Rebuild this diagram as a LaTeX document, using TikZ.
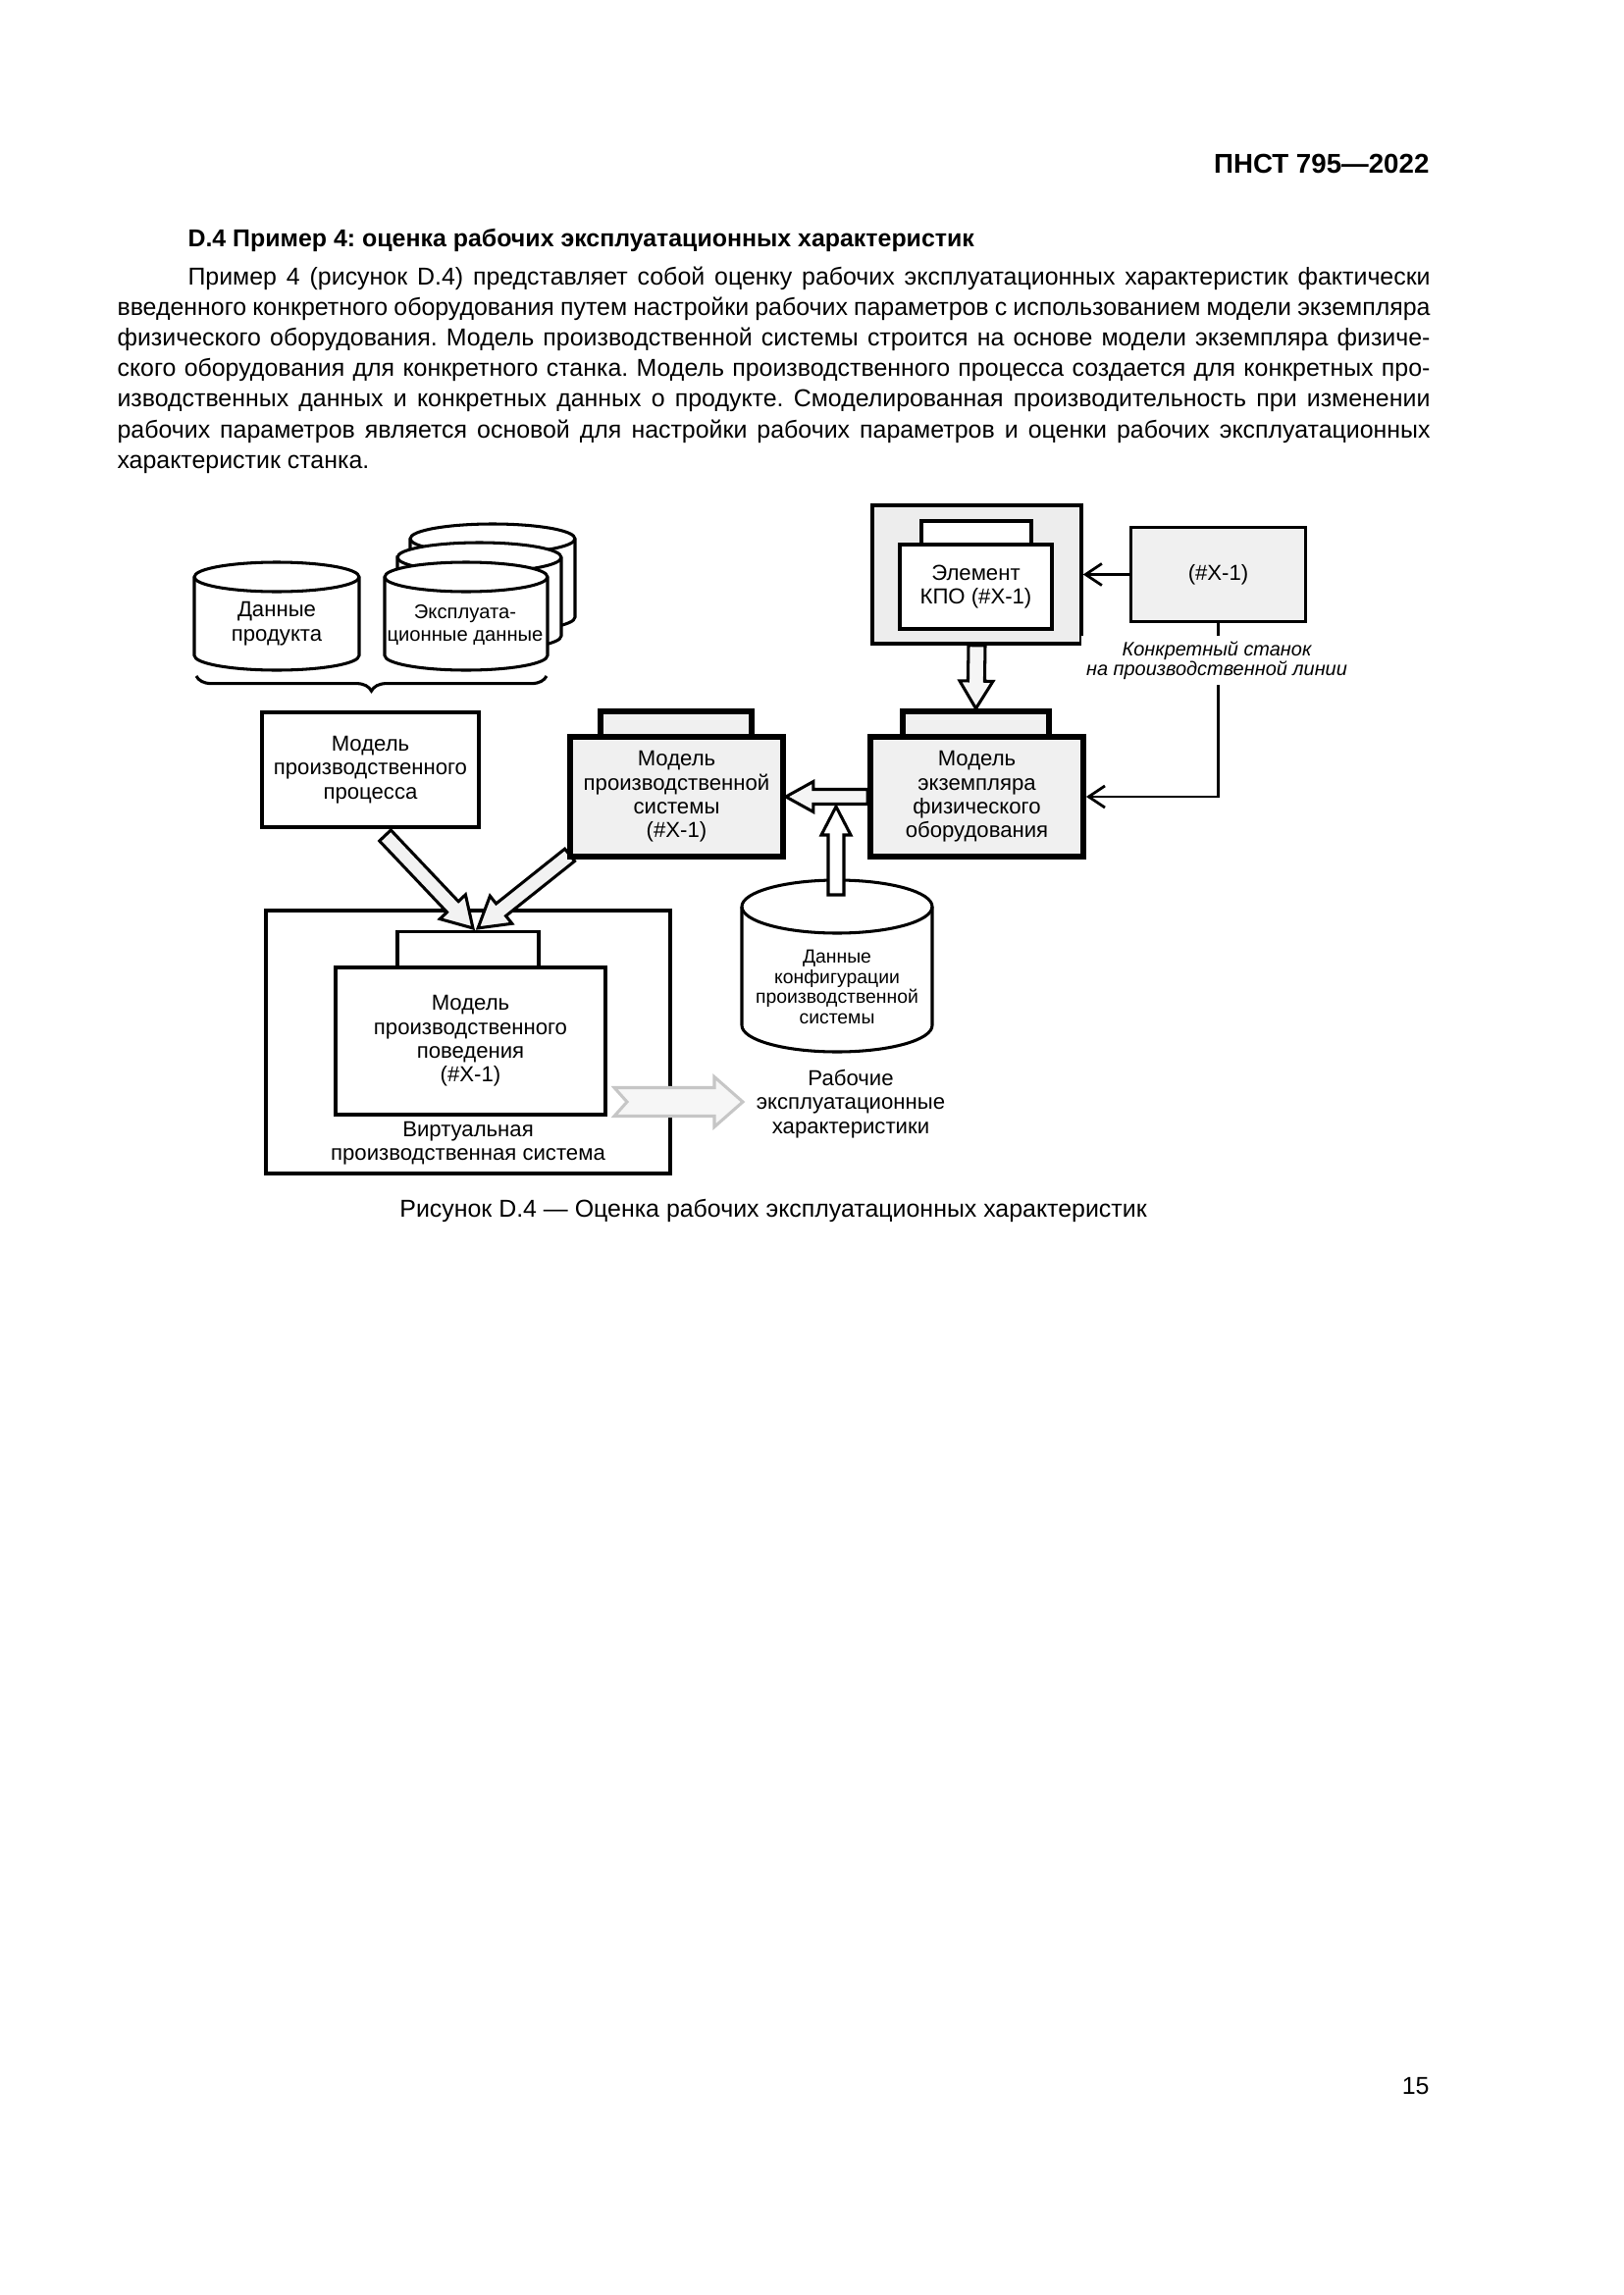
\documentclass[tikz,border=0pt]{standalone}
\usepackage{fontspec}
\setmainfont{Liberation Sans}
\frenchspacing
\usetikzlibrary{calc,arrows.meta,decorations.pathreplacing}
\pgfdeclarelayer{back}
\pgfdeclarelayer{mid}
\pgfsetlayers{back,mid,main}
\newlength\pxu
\setlength\pxu{0.126965mm}
\newcommand\diafont{\fontsize{8}{8.8}\selectfont}
\newcommand\smfont{\fontsize{7.3}{8.2}\selectfont}
\newcommand\txtfont{\fontsize{9}{11}\selectfont}
% hollow block arrow: [style]{from}{to}{shaft}{head}{headlen}
\newcommand\blockarrow[6][fill=white]{%
  \draw[barrow, #1] let \p1=($(#3)-(#2)$), \n1={atan2(\y1,\x1)}, \n2={veclen(\x1,\y1)} in
    [shift={(#2)}, rotate=\n1]
    (0pt,{#4*\pxu/2}) -- ({\n2-#6*\pxu},{#4*\pxu/2}) -- ({\n2-#6*\pxu},{#5*\pxu/2})
    -- ({\n2*1pt},0pt) -- ({\n2-#6*\pxu},{-#5*\pxu/2}) -- ({\n2-#6*\pxu},{-#4*\pxu/2})
    -- (0pt,{-#4*\pxu/2}) -- cycle;}
% notched tail arrow: [style]{from}{to}{shaft}{head}{headlen}{notch}
\newcommand\notcharrow[7][fill=white]{%
  \draw[barrow, #1] let \p1=($(#3)-(#2)$), \n1={atan2(\y1,\x1)}, \n2={veclen(\x1,\y1)} in
    [shift={(#2)}, rotate=\n1]
    (0pt,{#4*\pxu/2}) -- ({\n2-#6*\pxu},{#4*\pxu/2}) -- ({\n2-#6*\pxu},{#5*\pxu/2})
    -- ({\n2*1pt},0pt) -- ({\n2-#6*\pxu},{-#5*\pxu/2}) -- ({\n2-#6*\pxu},{-#4*\pxu/2})
    -- (0pt,{-#4*\pxu/2}) -- ({#7*\pxu},0pt) -- cycle;}
% cylinder: left, top, right, bottom, ry (px)
\newcommand\cyl[5]{%
  \draw[cylline, fill=white] (#1,{#2+#5}) -- (#1,{#4-#5})
    arc[start angle=180, end angle=360, x radius={(#3-#1)/2*\pxu}, y radius={#5*\pxu}]
    -- (#3,{#2+#5})
    arc[start angle=0, end angle=180, x radius={(#3-#1)/2*\pxu}, y radius={#5*\pxu}]
    -- cycle;
  \draw[cylline] (#1,{#2+#5})
    arc[start angle=180, end angle=360, x radius={(#3-#1)/2*\pxu}, y radius={#5*\pxu}];}
\begin{document}
\begin{tikzpicture}[x=\pxu, y=-\pxu,
  sz/.style 2 args={minimum width={#1*\pxu}, minimum height={#2*\pxu}},
  base/.style={inner sep=0pt, align=center, font=\diafont},
  tbox/.style={base, draw, line width=1.1pt, fill=white},
  gbox/.style={base, draw, line width=2.1pt, fill=gray!12},
  conn/.style={line width=1pt, -{Straight Barb[length=6pt,width=8pt]}},
  barrow/.style={line width=1.1pt, line join=miter},
  cylline/.style={line width=1.1pt},
  ptext/.style={anchor=base west, inner sep=0pt, font=\txtfont},
]
\useasboundingbox (0,0) rectangle (1654,2339);
\begin{pgfonlayer}{back}
\fill[white] (0,0) rectangle (1654,2339);
\end{pgfonlayer}

% page text
\node[anchor=base east, inner sep=0pt, font=\fontsize{10}{12}\selectfont\bfseries] (hdr) at (1457,177) {ПНСТ 795—2022};
\node[anchor=base west, inner sep=0pt, font=\fontsize{9}{11}\selectfont\bfseries] (sec) at (191,251) {D.4 Пример 4: оценка рабочих эксплуатационных характеристик};
\node[ptext] (p1) at (191,290) {\makebox[1266\pxu][s]{Пример 4 (рисунок D.4) представляет собой оценку рабочих эксплуатационных характеристик фактически}};
\node[ptext] (p2) at (119,321.2) {\makebox[1338\pxu][s]{введенного конкретного оборудования путем настройки рабочих параметров с использованием модели экземпляра}};
\node[ptext] (p3) at (119,352.4) {\makebox[1338\pxu][s]{физического оборудования. Модель производственной системы строится на основе модели экземпляра физиче-}};
\node[ptext] (p4) at (119,383.6) {\makebox[1338\pxu][s]{ского оборудования для конкретного станка. Модель производственного процесса создается для конкретных про-}};
\node[ptext] (p5) at (119,414.8) {\makebox[1338\pxu][s]{изводственных данных и конкретных данных о продукте. Смоделированная производительность при изменении}};
\node[ptext] (p6) at (119,446) {\makebox[1338\pxu][s]{рабочих параметров является основой для настройки рабочих параметров и оценки рабочих эксплуатационных}};
\node[ptext] (p7) at (119,477.2) {характеристик станка.};

% data cylinders
\cyl{198}{573}{366}{683}{15}
\node[base, font=\fontsize{8}{9}\selectfont] (prod) at (282,636) {Данные\\продукта};
\cyl{418}{534}{586}{644}{15}
\cyl{405}{553}{572}{663}{15}
\cyl{392}{573}{558}{683}{15}
\node[base, font=\smfont] (expl) at (474,637) {Эксплуата-\\ционные данные};
\coordinate (brL) at (200,689);
\coordinate (brR) at (557,689);
\draw[line width=1.1pt, decorate, decoration={brace, mirror, amplitude=5.5pt}] (brL) -- (brR);

% virtual production system (background)
\begin{pgfonlayer}{back}
\node[tbox, sz={412}{268}] (virt) at (477,1062) {};
\node[tbox, sz={144}{37}] (behtab) at (477,968) {};
\node[tbox, sz={275}{150}] (beh) at (479.5,1061) {Модель\\производственного\\поведения\\(\#X-1)};
\node[base] (virtlbl) at (477,1165) {Виртуальная\\производственная система};
\end{pgfonlayer}

% process model
\node[tbox, sz={221}{117}] (proc) at (377.5,784.5) {Модель\\производственного\\процесса};

% production system model
\node[gbox, sz={154}{26}] (systab) at (689,738) {};
\node[gbox, sz={217}{122}] (sys) at (689.5,812) {Модель\\производственной\\системы\\(\#X-1)};

% physical equipment instance model
\node[gbox, sz={149}{26}] (phystab) at (994.5,738) {};
\node[gbox, sz={217}{122}] (phys) at (995.5,812) {Модель\\экземпляра\\физического\\оборудования};

% container with element
\node[tbox, fill=gray!14, line width=1.3pt, sz={213}{141}] (cont) at (995.5,585.5) {};
\node[tbox, sz={112}{25}] (conttab) at (995,543.5) {};
\node[tbox, sz={155}{86}] (kpo) at (994.5,598) {Элемент\\КПО (\#X-1)};

% machine box
\node[tbox, fill=gray!12, line width=1.3pt, sz={178}{96}] (xbox) at (1241.5,585.5) {(\#X-1)};
\draw[conn] (xbox) -- (cont);
\draw[conn] (xbox.south) |- (phys.east);
\node[base, fill=white, inner sep=2pt, font=\fontsize{7.2}{7.4}\selectfont\itshape] (lbl) at (1240,673) {Конкретный станок\\на производственной линии};

% block arrows
\blockarrow[fill=gray!8]{cont.south}{phystab.north}{17}{34}{28}
\blockarrow[fill=gray!8]{phys.west}{sys.east}{15}{31}{28}

% configuration data cylinder
\cyl{756}{897}{950}{1072}{27}
\node[base, font=\fontsize{7}{7.5}\selectfont] (cfg) at (853,1006) {Данные\\конфигурации\\производственной\\системы};
\coordinate (upS) at (852,912);
\coordinate (upT) at (852,822);
\blockarrow[fill=white]{upS}{upT}{16}{30}{29}

% diagonal arrows
\coordinate (d1s) at ($(proc.south)+(15,7)$);
\coordinate (d1t) at ($(behtab.north)+(5,-2)$);
\coordinate (d2s) at ($(sys.south west)+(2.5,-4.5)$);
\coordinate (d2t) at ($(behtab.north)+(10,-2)$);
\begin{pgfonlayer}{mid}
\blockarrow[fill=gray!10]{d1s}{d1t}{16}{36}{30}
\blockarrow[fill=gray!10]{d2s}{d2t}{16}{36}{30}
\end{pgfonlayer}

% performance output
\coordinate (perfS) at (626,1123);
\coordinate (perfT) at (757,1123);
\notcharrow[fill=gray!7, draw=gray!45]{perfS}{perfT}{29}{51}{29}{13}
\node[base] (perf) at (867,1125) {Рабочие\\эксплуатационные\\характеристики};

% caption and page number
\node[anchor=base, inner sep=0pt, font=\txtfont] (cap) at (788,1240) {Рисунок D.4 — Оценка рабочих эксплуатационных характеристик};
\node[anchor=base east, inner sep=0pt, font=\txtfont] (pg) at (1457,2134) {15};
\end{tikzpicture}
\end{document}
